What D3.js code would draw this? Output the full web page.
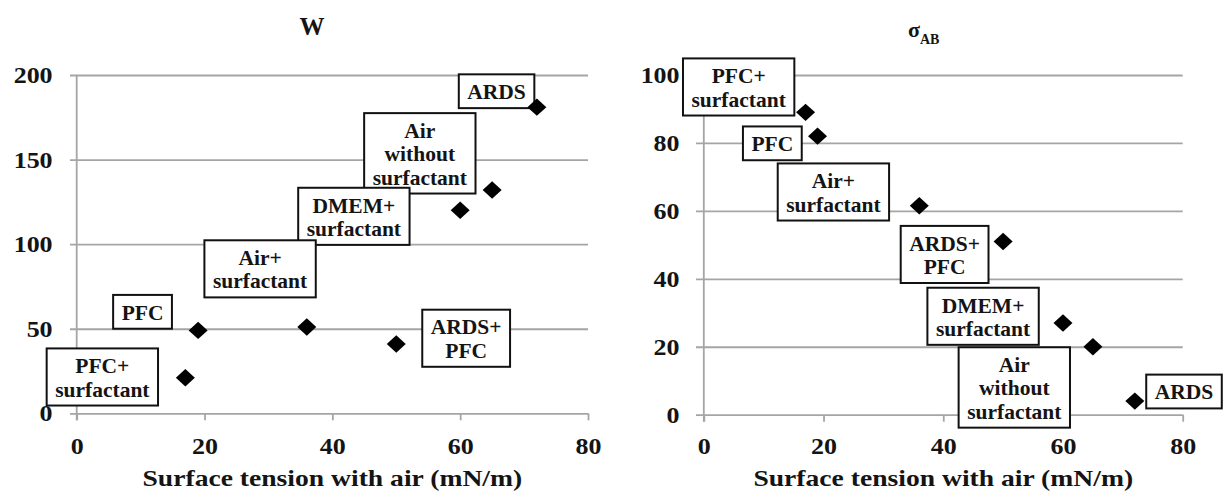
<!DOCTYPE html>
<html>
<head>
<meta charset="utf-8">
<script src="https://cdn.jsdelivr.net/npm/d3@7"></script>
<style>
  html, body { margin: 0; padding: 0; background: #fff; }
  svg { display: block; }
</style>
</head>
<body>
<svg id="chart" width="1223" height="498"></svg>
<script>
// ---- data ----
const samples = ["ARDS", "Air without surfactant", "DMEM+ surfactant", "Air+ surfactant", "PFC", "ARDS+ PFC", "PFC+ surfactant"];
const sampleLabelLines = [["ARDS"], ["Air", "without", "surfactant"], ["DMEM+", "surfactant"], ["Air+", "surfactant"], ["PFC"], ["ARDS+", "PFC"], ["PFC+", "surfactant"]];
const surfaceTension = [72, 65, 60, 36, 19, 50, 17];   // mN/m
const wValues = [181, 132, 120, 51, 49, 41, 21];
const sigmaABValues = [4, 20, 27, 61.5, 82, 51, 89];
const xTicks = [0, 20, 40, 60, 80];
const wTicks = [0, 50, 100, 150, 200];
const sigmaTicks = [0, 20, 40, 60, 80, 100];
const xAxisTitle = "Surface tension with air (mN/m)";

// ---- layout: label box offsets from each marker (px) ----
const wLabelOffsets = [[-40.3, -15.9], [-72.3, -36.7], [-106.3, 6], [-46.7, -58.2], [-55.6, -18.6], [69.9, -5.7], [-83, -0.8]];
const sigmaLabelOffsets = [[49.2, -9.6], [-78.6, 40.7], [-79.9, -6.7], [-85.9, -13.8], [-45.2, 7.2], [-58.5, 13], [-66.9, -25.4]];

const FONT = "'Liberation Serif', Tinos, 'Times New Roman', serif";
const INK = "#141414";
const GRID = "#a5a5a5";
const svg = d3.select("#chart");

function font(sel, size) {
  return sel.style("font-family", FONT).style("font-weight", "bold")
    .style("font-size", size + "px").style("fill", INK);
}

// horizontal stretch for axis text
function stretch(sel, sx) {
  sel.each(function () {
    const t = d3.select(this);
    const x = +(t.attr("x") || 0);
    t.attr("x", x / sx).attr("transform", `scale(${sx},1)`);
  });
}

const diamond = {
  draw(ctx) {
    const w = 9.5, h = 8.7;
    ctx.moveTo(0, -h); ctx.lineTo(w, 0); ctx.lineTo(0, h); ctx.lineTo(-w, 0); ctx.closePath();
  }
};

const panels = [
  { title: "W", values: wValues, yDomain: [0, 200], yTicks: wTicks,
    xRange: [76.7, 588], yRange: [413.3, 75], gridLeft: 70, labelRight: 52.6,
    offsets: wLabelOffsets, titleX: 312 },
  { title: "σ", sub: "AB", values: sigmaABValues, yDomain: [0, 100], yTicks: sigmaTicks,
    xRange: [703.8, 1182.7], yRange: [414.7, 75], gridLeft: 696, labelRight: 679.6,
    offsets: sigmaLabelOffsets, titleX: 908 }
];

panels.forEach(p => {
  const x = d3.scaleLinear().domain([0, 80]).range(p.xRange);
  const y = d3.scaleLinear().domain(p.yDomain).range(p.yRange);
  const g = svg.append("g");
  const [x0, x1] = p.xRange;
  const y0 = y(0), yTop = y(p.yDomain[1]);

  // horizontal gridlines + y tick labels
  const yAxis = g.append("g")
    .attr("transform", `translate(${p.gridLeft},0)`)
    .call(d3.axisLeft(y).tickValues(p.yTicks).tickSize(-(x1 - p.gridLeft)).tickSizeOuter(0)
      .tickPadding(p.gridLeft - p.labelRight));
  yAxis.select(".domain").remove();
  yAxis.selectAll(".tick line").attr("stroke", GRID).attr("stroke-width", 1.8);
  font(yAxis.selectAll(".tick text").attr("dy", null).attr("y", 7.5), 23);
  stretch(yAxis.selectAll(".tick text"), 1.13);

  // x ticks + labels
  const xAxis = g.append("g")
    .attr("transform", `translate(0,${y0})`)
    .call(d3.axisBottom(x).tickValues(xTicks).tickSize(7).tickSizeOuter(0));
  xAxis.select(".domain").remove();
  xAxis.selectAll(".tick line").attr("stroke", GRID).attr("stroke-width", 1.8);
  font(xAxis.selectAll(".tick text").attr("dy", null).attr("y", 454 - y0), 23);
  stretch(xAxis.selectAll(".tick text"), 1.13);

  // vertical axis line
  g.append("line")
    .attr("x1", x0).attr("x2", x0).attr("y1", yTop).attr("y2", y0 + 7)
    .attr("stroke", GRID).attr("stroke-width", 1.8);

  // x-axis title
  const sxT = 1.15;
  font(g.append("text"), 24)
    .attr("text-anchor", "middle")
    .attr("x", (x0 + x1) / 2 / sxT).attr("y", 0)
    .attr("transform", `translate(0,486) scale(${sxT},1)`)
    .text(xAxisTitle);

  // chart title
  if (p.sub) {
    const t = font(g.append("text"), 22).attr("x", p.titleX).attr("y", 37);
    t.append("tspan").text(p.title);
    t.append("tspan").attr("dy", 7).style("font-size", "14px").text(p.sub);
  } else {
    font(g.append("text"), 25).attr("x", p.titleX).attr("y", 35).attr("text-anchor", "middle")
      .text(p.title);
  }

  // label boxes
  const lineH = 23.3;
  const labels = g.append("g");
  samples.forEach((s, i) => {
    const cx = x(surfaceTension[i]) + p.offsets[i][0];
    const cy = y(p.values[i]) + p.offsets[i][1];
    const lines = sampleLabelLines[i];
    const lg = labels.append("g");
    const rect = lg.append("rect").attr("fill", "#fff").attr("stroke", "#111").attr("stroke-width", 2);
    const h = 10.5 + lines.length * lineH;
    const top = cy - h / 2;
    let maxW = 0;
    lines.forEach((ln, j) => {
      const tx = font(lg.append("text"), 21.5)
        .attr("x", cx).attr("y", top + 24.8 + j * lineH)
        .attr("text-anchor", "middle").text(ln);
      maxW = Math.max(maxW, tx.node().getComputedTextLength());
    });
    const w = maxW + 17;
    rect.attr("x", cx - w / 2).attr("y", top).attr("width", w).attr("height", h);
  });

  // markers
  g.append("g").selectAll("path")
    .data(samples)
    .join("path")
    .attr("d", d3.symbol().type(diamond))
    .attr("transform", (d, i) => `translate(${x(surfaceTension[i])},${y(p.values[i])})`)
    .attr("fill", "#000");
});
</script>
</body>
</html>
